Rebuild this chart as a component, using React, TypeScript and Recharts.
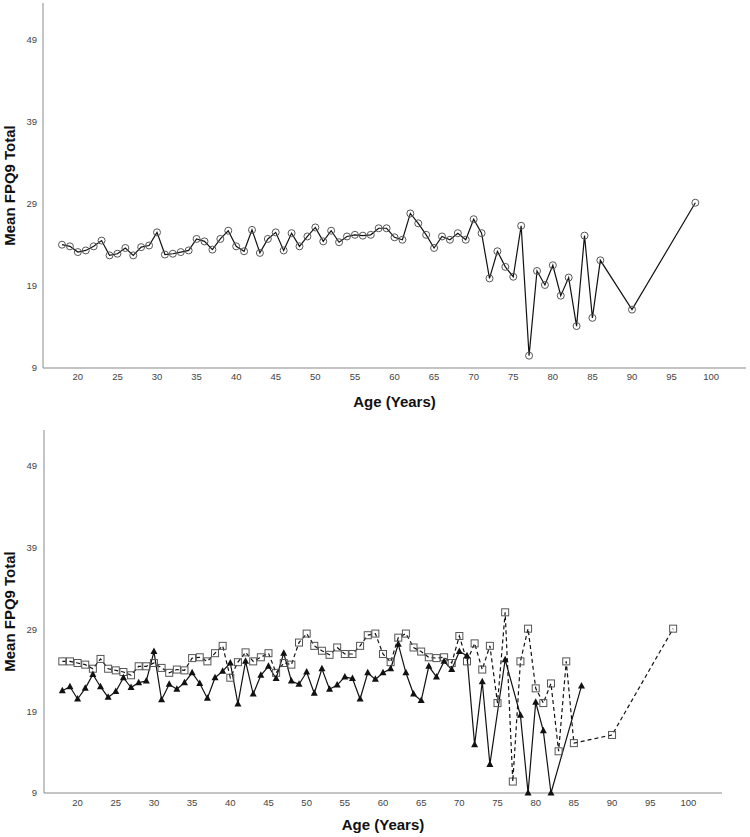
import React from 'react';
import { LineChart, Line, XAxis, YAxis } from 'recharts';

// ages present in the data (gaps after 86)
const AGES = [
  18, 19, 20, 21, 22, 23, 24, 25, 26, 27, 28, 29, 30, 31, 32, 33, 34, 35, 36, 37,
  38, 39, 40, 41, 42, 43, 44, 45, 46, 47, 48, 49, 50, 51, 52, 53, 54, 55, 56, 57,
  58, 59, 60, 61, 62, 63, 64, 65, 66, 67, 68, 69, 70, 71, 72, 73, 74, 75, 76, 77,
  78, 79, 80, 81, 82, 83, 84, 85, 86, 90, 98,
];

// top panel: everyone
const TOTAL = [
  24.0, 23.8, 23.1, 23.3, 23.8, 24.5, 22.7, 22.9, 23.6, 22.7, 23.7, 23.9, 25.5, 22.8, 22.9, 23.1, 23.3, 24.7, 24.4, 23.4,
  24.7, 25.7, 23.8, 23.2, 25.8, 23.0, 24.7, 25.5, 23.3, 25.4, 23.8, 25.0, 26.1, 24.4, 25.7, 24.3, 25.0, 25.2, 25.1, 25.2,
  26.0, 26.0, 24.9, 24.6, 27.8, 26.6, 25.2, 23.6, 25.0, 24.6, 25.4, 24.6, 27.1, 25.4, 19.9, 23.2, 21.3, 20.1, 26.3, 10.5,
  20.8, 19.1, 21.5, 17.8, 20.0, 14.1, 25.1, 15.1, 22.1, 16.1, 29.1,
];

// bottom panel, dashed line with squares
const FEMALE = [
  25.1, 25.1, 24.9, 24.7, 24.2, 25.4, 24.2, 24.0, 23.8, 23.4, 24.5, 24.5, 24.9, 24.3, 23.7, 24.1, 24.0, 25.5, 25.6, 25.1,
  26.1, 27.0, 23.1, 25.0, 26.2, 25.1, 25.6, 26.1, 23.7, 24.9, 24.7, 27.4, 28.5, 27.0, 26.4, 25.9, 26.8, 26.0, 26.0, 27.0,
  28.3, 28.5, 26.0, 25.0, 28.0, 28.5, 26.8, 26.3, 25.6, 25.5, 25.6, 24.9, 28.2, 25.1, 27.3, 24.1, 27.0, 20.0, 31.1, 10.4,
  25.1, 29.1, 21.8, 20.0, 22.4, 14.1, 25.1, 15.1, null, 16.1, 29.1,
];

// bottom panel, solid line with triangles
const MALE = [
  21.5, 22.0, 20.5, 21.8, 23.5, 22.0, 20.7, 21.4, 23.1, 21.9, 22.5, 22.7, 26.3, 20.4, 22.3, 21.7, 22.5, 23.7, 22.4, 20.6,
  23.1, 23.9, 24.9, 19.9, 25.1, 21.1, 23.4, 24.5, 23.0, 26.1, 22.7, 22.3, 23.8, 21.2, 24.2, 21.7, 22.2, 23.2, 23.0, 20.5,
  23.7, 22.9, 23.7, 24.2, 27.2, 23.7, 21.1, 20.3, 24.5, 23.2, 25.1, 24.1, 26.3, 25.8, 14.9, 22.6, 12.5, null, 25.3, null,
  18.5, 9.0, 20.1, 16.6, 9.0, null, null, null, 22.1, null, null,
];

const X_TICKS = [20, 25, 30, 35, 40, 45, 50, 55, 60, 65, 70, 75, 80, 85, 90, 95, 100];
const Y_TICKS = [9, 19, 29, 39, 49];

const totalData = AGES.map((age, i) => ({ age, total: TOTAL[i] }));
const splitData = AGES.map((age, i) => ({ age, female: FEMALE[i], male: MALE[i] }));

const FONT = '"Liberation Sans", Arial, sans-serif';
const tickStyle = { fontSize: 9.5, fill: '#444', fontFamily: FONT };
const titleStyle = { fontSize: 15, fontWeight: 'bold', fill: '#111', fontFamily: FONT };

const CircleDot = (p: any) => {
  if (p.cx == null || p.cy == null) return <g key={`c-${p.index}`} />;
  return <circle key={`c-${p.index}`} cx={p.cx} cy={p.cy} r={3.5} fill="none" stroke="#555" strokeWidth={1} />;
};

const SquareDot = (p: any) => {
  if (p.cx == null || p.cy == null) return <g key={`s-${p.index}`} />;
  return (
    <rect key={`s-${p.index}`} x={p.cx - 3.5} y={p.cy - 3.5} width={7} height={7} fill="none" stroke="#555" strokeWidth={1} />
  );
};

const TriangleDot = (p: any) => {
  if (p.cx == null || p.cy == null) return <g key={`t-${p.index}`} />;
  const { cx, cy } = p;
  return <path key={`t-${p.index}`} d={`M${cx},${cy - 4}L${cx - 3.5},${cy + 2.5}L${cx + 3.5},${cy + 2.5}Z`} fill="#111" />;
};

export default function App() {
  return (
    <div style={{ position: 'absolute', left: 0, top: 0, width: 750, height: 837, background: '#fff' }}>
      <div style={{ position: 'absolute', left: 0, top: 0 }}>
        <LineChart width={750} height={415} data={totalData} margin={{ top: 3, right: 4, left: 0, bottom: 0 }}>
          <XAxis
            dataKey="age"
            type="number"
            domain={[15.6, 104.4]}
            ticks={X_TICKS}
            interval={0}
            height={47}
            tickSize={0}
            tickMargin={5}
            tickLine={false}
            axisLine={{ stroke: '#8a8a8a' }}
            tick={tickStyle}
            label={{ value: 'Age (Years)', position: 'insideBottom', offset: 8, style: titleStyle }}
          />
          <YAxis
            type="number"
            domain={[9, 53.4]}
            ticks={Y_TICKS}
            interval={0}
            width={43}
            tickSize={0}
            tickMargin={6}
            tickLine={false}
            axisLine={{ stroke: '#8a8a8a' }}
            tick={tickStyle}
            label={{ value: 'Mean FPQ9 Total', angle: -90, position: 'insideLeft', offset: 10, style: { ...titleStyle, textAnchor: 'middle' } }}
          />
          <Line
            type="linear"
            dataKey="total"
            stroke="#111"
            strokeWidth={1.2}
            dot={CircleDot}
            activeDot={false}
            isAnimationActive={false}
          />
        </LineChart>
      </div>
      <div style={{ position: 'absolute', left: 0, top: 415 }}>
        <LineChart width={750} height={422} data={splitData} margin={{ top: 15, right: 28, left: 0, bottom: 0 }}>
          <XAxis
            dataKey="age"
            type="number"
            domain={[15.6, 104.4]}
            ticks={X_TICKS}
            interval={0}
            height={44}
            tickSize={0}
            tickMargin={6}
            tickLine={false}
            axisLine={{ stroke: '#8a8a8a' }}
            tick={tickStyle}
            label={{ value: 'Age (Years)', position: 'insideBottom', offset: 7, style: titleStyle }}
          />
          <YAxis
            type="number"
            domain={[9, 53.4]}
            ticks={Y_TICKS}
            interval={0}
            width={44}
            tickSize={0}
            tickMargin={7}
            tickLine={false}
            axisLine={{ stroke: '#8a8a8a' }}
            tick={tickStyle}
            label={{ value: 'Mean FPQ9 Total', angle: -90, position: 'insideLeft', offset: 10, style: { ...titleStyle, textAnchor: 'middle' } }}
          />
          <Line
            type="linear"
            dataKey="female"
            stroke="#111"
            strokeWidth={1.2}
            strokeDasharray="4 3"
            dot={SquareDot}
            activeDot={false}
            connectNulls
            isAnimationActive={false}
          />
          <Line
            type="linear"
            dataKey="male"
            stroke="#111"
            strokeWidth={1.2}
            dot={TriangleDot}
            activeDot={false}
            connectNulls
            isAnimationActive={false}
          />
        </LineChart>
      </div>
    </div>
  );
}
